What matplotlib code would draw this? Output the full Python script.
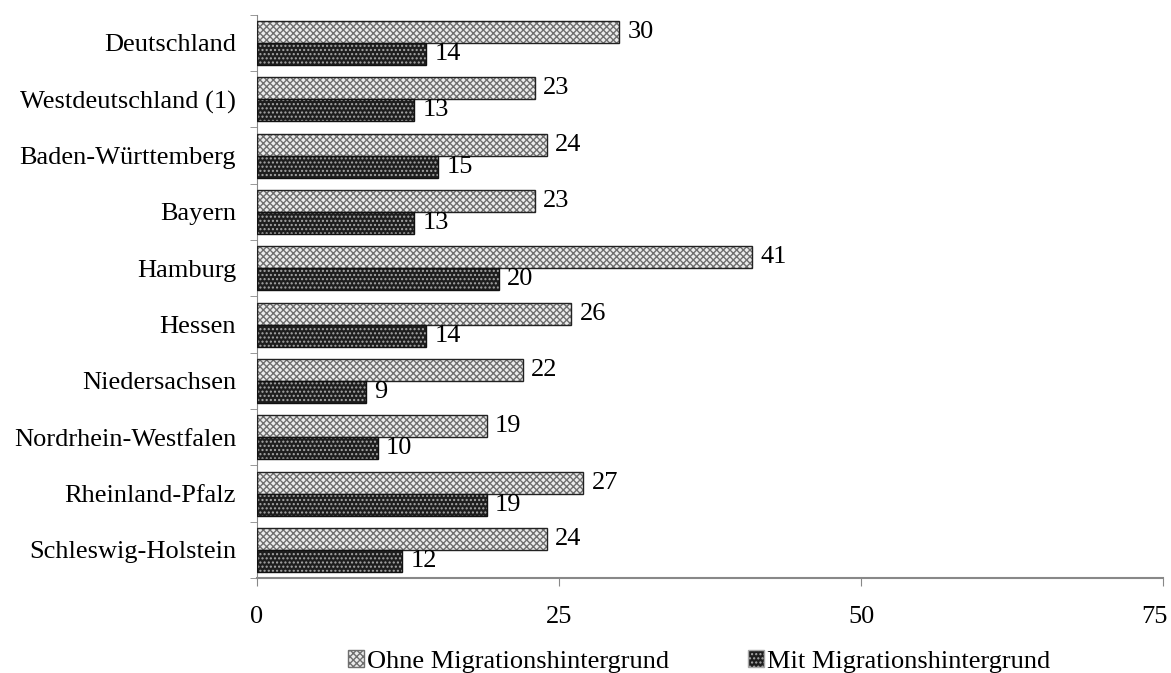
import numpy as np
import matplotlib.pyplot as plt
import matplotlib.transforms as mtransforms
from matplotlib.patches import Patch

regions = ['Deutschland', 'Westdeutschland (1)', 'Baden-Württemberg', 'Bayern',
           'Hamburg', 'Hessen', 'Niedersachsen', 'Nordrhein-Westfalen',
           'Rheinland-Pfalz', 'Schleswig-Holstein']
ohne = [30, 23, 24, 23, 41, 26, 22, 19, 27, 24]
mit = [14, 13, 15, 13, 20, 14, 9, 10, 19, 12]

plt.rcParams['font.family'] = 'Liberation Serif'
plt.rcParams['hatch.linewidth'] = 1.0

fig = plt.figure(figsize=(11.71, 6.73), dpi=100)
ax = fig.add_axes([0.2195, 0.141, 0.7737, 0.837])

y = np.arange(len(regions))
h = 0.39
fs = 19

# Ohne: light with crosshatch
ax.barh(y - h / 2, ohne, height=h, color='#ececec', edgecolor='#6f6f6f',
        hatch='xxxxx', linewidth=0, zorder=2)
ax.barh(y - h / 2, ohne, height=h, color='none', edgecolor='#222222',
        linewidth=1.0, zorder=3)
# Mit: dark with white dots
ax.barh(y + h / 2, mit, height=h, color='#1e1e1e', edgecolor='#1e1e1e',
        linewidth=0, zorder=2)
ax.barh(y + h / 2, mit, height=h, color='none', edgecolor='#a8a8a8',
        hatch='....', linewidth=0, zorder=3)
ax.barh(y + h / 2, mit, height=h, color='none', edgecolor='#111111',
        linewidth=1.0, zorder=4)

for yi, v in zip(y, ohne):
    ax.annotate(str(v), (v, yi - h / 2), xytext=(6, 0), textcoords='offset points',
                va='center', ha='left', fontsize=fs)
for yi, v in zip(y, mit):
    ax.annotate(str(v), (v, yi + h / 2), xytext=(6, 0), textcoords='offset points',
                va='center', ha='left', fontsize=fs)

ax.set_xlim(0, 75)
ax.set_ylim(len(regions) - 0.5, -0.5)
ax.set_xticks([0, 25, 50, 75])
ax.set_yticks(y)
ax.set_yticklabels(regions)
ax.set_yticks(np.arange(len(regions) + 1) - 0.5, minor=True)
ax.tick_params(axis='x', labelsize=fs, direction='out', length=6, color='#888888', pad=14)
ax.tick_params(axis='y', which='major', labelsize=fs, length=0, pad=15)
ax.tick_params(axis='y', which='minor', direction='out', length=5, color='#888888')

# keep the last x tick label inside the figure
last = ax.get_xticklabels()[-1]
last.set_transform(last.get_transform() +
                   mtransforms.ScaledTranslation(-9 / 100, 0, fig.dpi_scale_trans))

for s in ['top', 'right']:
    ax.spines[s].set_visible(False)
ax.spines['left'].set_color('#888888')
ax.spines['bottom'].set_color('#888888')
ax.spines['bottom'].set_linewidth(1.5)

handles = [Patch(facecolor='#ececec', edgecolor='#6f6f6f', hatch='xxxxx'),
           Patch(facecolor='#1e1e1e', edgecolor='#a8a8a8', hatch='....')]
fig.legend(handles, ['Ohne Migrationshintergrund', 'Mit Migrationshintergrund'],
           loc='lower center', bbox_to_anchor=(0.597, -0.035), ncol=2, frameon=False,
           fontsize=fs, handlelength=0.6, handleheight=0.6, handletextpad=0.1,
           columnspacing=3.0)

fig.savefig('out.png', dpi=100)
